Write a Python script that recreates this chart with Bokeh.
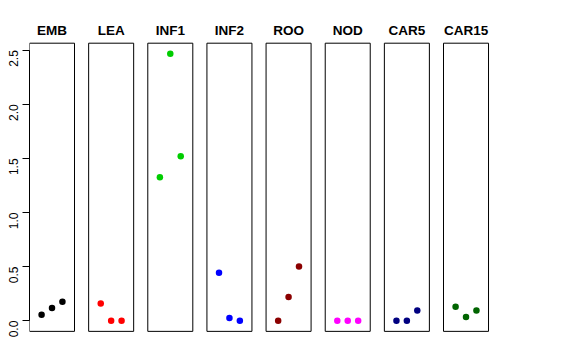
from bokeh.plotting import figure
from bokeh.models import ColumnDataSource, FixedTicker, PrintfTickFormatter
from bokeh.embed import file_html
from bokeh.resources import INLINE
from bokeh.core.properties import value

groups = ["EMB", "LEA", "INF1", "INF2", "ROO", "NOD", "CAR5", "CAR15"]
colors = ["#000000", "#FF0000", "#00CD00", "#0000FF", "#8B0000", "#FF00FF", "#000080", "#006400"]
emb = [0.055, 0.117, 0.176]
lea = [0.16, 0.0, 0.0]
inf1 = [1.325, 2.466, 1.52]
inf2 = [0.444, 0.024, 0.0]
roo = [0.0, 0.218, 0.502]
nod = [0.0, 0.0, 0.0]
car5 = [0.0, 0.0, 0.095]
car15 = [0.13, 0.034, 0.095]
series = [emb, lea, inf1, inf2, roo, nod, car5, car15]
positions = [1, 2, 3]
y_ticks = [0.0, 0.5, 1.0, 1.5, 2.0, 2.5]

# panel geometry (R style: xlim 0..4, ylim from data, 4% expansion)
xlo, xhi = 0.0, 4.0
xpad = 0.04 * (xhi - xlo)
pitch = 5.676
ymin = 0.0
ymax = max(max(s) for s in series)
ypad = 0.04 * (ymax - ymin)
box_bottom, box_top = ymin - ypad, ymax + ypad

px_x = 10.42
px_y = 108.2
frame_w, frame_h = 464, 325
x_start = xlo - xpad
x_end = x_start + frame_w / px_x
y_top = box_top + 27.7 / px_y
y_bottom = y_top - frame_h / px_y

p = figure(width=510, height=345, frame_width=frame_w, frame_height=frame_h,
           x_range=(x_start, x_end), y_range=(y_bottom, y_top),
           x_axis_type=None, output_backend="svg", toolbar_location=None,
           min_border_left=29, min_border_right=10, min_border_top=15, min_border_bottom=0)
p.outline_line_color = None
p.ygrid.grid_line_color = None
p.background_fill_color = "white"

# boxes
offsets = [i * pitch for i in range(len(groups))]
box_src = ColumnDataSource(dict(
    left=[o + xlo - xpad for o in offsets],
    right=[o + xhi + xpad for o in offsets],
    bottom=[box_bottom] * len(groups),
    top=[box_top] * len(groups),
))
p.quad(left="left", right="right", bottom="bottom", top="top", source=box_src,
       fill_color=None, line_color="#000000", line_width=1)

# points
xs, ys, cs = [], [], []
for o, s, c in zip(offsets, series, colors):
    for pos, v in zip(positions, s):
        xs.append(o + pos)
        ys.append(v)
        cs.append(c)
p.scatter(x=xs, y=ys, color=cs, size=6.5, line_width=0)

# titles
title_src = ColumnDataSource(dict(
    x=[o + (xlo + xhi) / 2 for o in offsets],
    y=[box_top + 13.2 / px_y] * len(groups),
    text=groups,
))
p.text(x="x", y="y", text="text", source=title_src, text_align="center",
       text_baseline="middle", text_font=value("Liberation Sans"),
       text_font_style="bold", text_font_size="13.5px", text_color="#000000")

# y axis
ax = p.yaxis[0]
ax.ticker = FixedTicker(ticks=y_ticks)
ax.formatter = PrintfTickFormatter(format="%.1f")
ax.bounds = (y_ticks[0], y_ticks[-1])
ax.major_label_orientation = 1.5708
ax.major_label_text_font = "Liberation Sans"
ax.major_label_text_font_size = "12px"
ax.major_label_text_color = "#000000"
ax.major_label_standoff = 9
ax.major_tick_out = 7
ax.major_tick_in = 0
ax.minor_tick_out = 0
ax.minor_tick_in = 0
ax.axis_line_color = "#000000"
ax.major_tick_line_color = "#000000"

open("out.html", "w").write(file_html(p, INLINE))
